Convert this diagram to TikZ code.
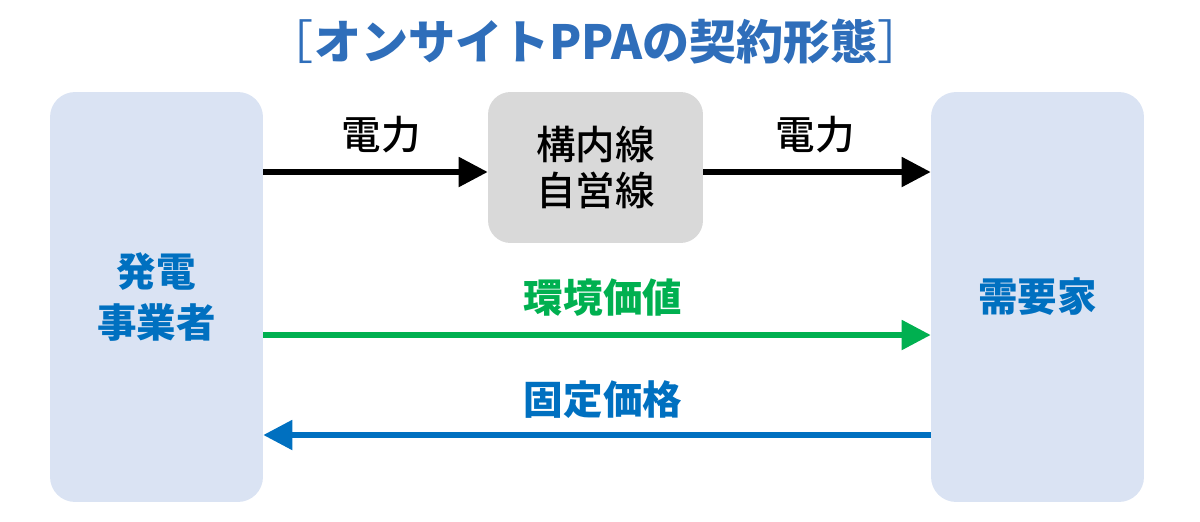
\documentclass[tikz,border=0pt]{standalone}
\usepackage{fontspec}
\setmainfont{Noto Sans CJK JP}
\newfontfamily\jpmedium{Noto Sans CJK JP Medium}
\usetikzlibrary{arrows.meta, positioning}
\definecolor{boxblue}{HTML}{DAE3F3}
\definecolor{boxgray}{HTML}{D9D9D9}
\definecolor{txtblue}{HTML}{0070C0}
\definecolor{ttlblue}{HTML}{2F6EBA}
\definecolor{valgreen}{HTML}{00B050}
\tikzset{
  party/.style={fill=boxblue, rounded corners=0.5cm, minimum width=4.26cm, minimum height=8.2cm,
    text=txtblue, align=center, font=\bfseries\fontsize{22.5}{29.5}\selectfont},
  wirebox/.style={fill=boxgray, rounded corners=0.45cm, minimum width=4.3cm, minimum height=3.02cm,
    align=center, font=\jpmedium\fontsize{22.5}{26.5}\selectfont},
  lbl/.style={font=\jpmedium\fontsize{22.5}{26.5}\selectfont},
  flow/.style={line width=3pt, -{Triangle[length=0.58cm, width=0.58cm]}}
}

\begin{document}
\begin{tikzpicture}[x=0.02cm, y=-0.02cm]
\useasboundingbox (0, 0) rectangle (1200, 521);
\node[text=ttlblue, font=\bfseries\fontsize{26.8}{32}\selectfont] (title) at (596, 42) {{\mdseries ［}オンサイトPPAの契約形態{\mdseries ］}};
\node[party] (gen) at (156.5, 297) {発電\\事業者};
\node[party] (user) at (1037.5, 297) {需要家};
\node[wirebox] (wire) at (595.5, 167.5) {構内線\\自営線};
\node[lbl] (pw1) at (381, 135) {電力};
\node[lbl] (pw2) at (815, 135) {電力};
\node[lbl, text=valgreen, font=\bfseries\fontsize{22.5}{26.5}\selectfont] (env) at (603, 298) {環境価値};
\node[lbl, text=txtblue, font=\bfseries\fontsize{22.5}{26.5}\selectfont] (price) at (603, 400) {固定価格};
\draw[flow] (gen.east |- 0, 172) -- (wire.west |- 0, 172);
\draw[flow] (wire.east |- 0, 172) -- (user.west |- 0, 172);
\draw[flow, valgreen] (gen.east |- 0, 335) -- (user.west |- 0, 335);
\draw[flow, txtblue] (user.west |- 0, 435) -- (gen.east |- 0, 435);
\end{tikzpicture}
\end{document}
